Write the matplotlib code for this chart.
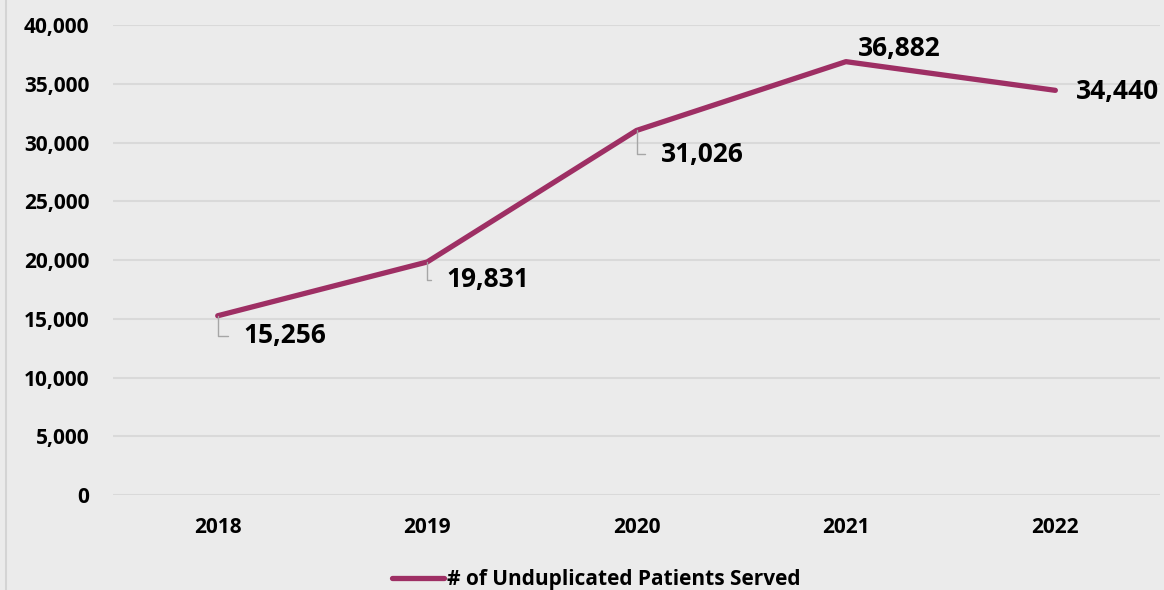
import matplotlib
matplotlib.use('Agg')
from matplotlib import pyplot as plt
from matplotlib.lines import Line2D

years = ['2018', '2019', '2020', '2021', '2022']
patients = [15256, 19831, 31026, 36882, 34440]
series_name = '# of Unduplicated Patients Served'

# label offsets in pixels (dx, dy) and whether a leader line is drawn
label_offsets = [(26, -20), (19, -18), (24, -24), (12, 13), (21, -1)]
leaders = [True, True, True, False, False]

plt.rcParams['font.family'] = ['Open Sans', 'DejaVu Sans']
plt.rcParams['font.weight'] = 'bold'

bg = '#EBEBEB'
line_color = '#9E2F64'
grid_color = '#D9D9D9'

fig = plt.figure(figsize=(11.64, 5.90), dpi=100, facecolor=bg)
ax = fig.add_axes([0.0971, 0.161, 0.8995, 0.7966])
ax.set_facecolor(bg)

x = list(range(len(years)))
ax.plot(x, patients, color=line_color, linewidth=3.8, solid_capstyle='round', zorder=3)

for xi, val, (dx, dy), lead in zip(x, patients, label_offsets, leaders):
    if lead:
        ax.annotate(f'{val:,}', xy=(xi, val), xytext=(dx, dy), textcoords='offset pixels',
                    ha='left', va='center', fontsize=19, fontweight='bold', color='black',
                    arrowprops=dict(arrowstyle='-', color='#A6A6A6', lw=1.0,
                                    connectionstyle='angle,angleA=0,angleB=90,rad=0',
                                    relpos=(0, 0.5), shrinkA=9, shrinkB=0))
    else:
        ax.annotate(f'{val:,}', xy=(xi, val), xytext=(dx, dy), textcoords='offset pixels',
                    ha='left', va='center', fontsize=19, fontweight='bold', color='black')

ax.set_xlim(-0.5, 4.5)
ax.set_ylim(0, 40000)
ax.set_yticks(range(0, 40001, 5000))
ax.set_yticklabels([f'{v:,}' for v in range(0, 40001, 5000)])
ax.set_xticks(x)
ax.set_xticklabels(years)
ax.tick_params(axis='both', length=0, labelsize=15, colors='black')
ax.tick_params(axis='y', pad=17)
ax.tick_params(axis='x', pad=16)
for lbl in ax.get_xticklabels() + ax.get_yticklabels():
    lbl.set_fontweight('bold')

ax.grid(axis='y', color=grid_color, linewidth=1.5)
ax.set_axisbelow(True)
for s in ax.spines.values():
    s.set_visible(False)

# chart frame edge on the left
fig.add_artist(Line2D([6 / 1164, 6 / 1164], [0, 1], color='#D4D4D4', linewidth=1.5,
                      transform=fig.transFigure))

handle = Line2D([], [], color=line_color, linewidth=3.8, solid_capstyle='round')
fig.legend([handle], [series_name], loc='center', bbox_to_anchor=(0.512, 0.017),
           frameon=False, handlelength=2.5, handletextpad=0.15,
           prop={'family': ['Open Sans', 'DejaVu Sans'], 'weight': 'bold', 'size': 15})

fig.savefig('out.png', dpi=100, facecolor=bg)
